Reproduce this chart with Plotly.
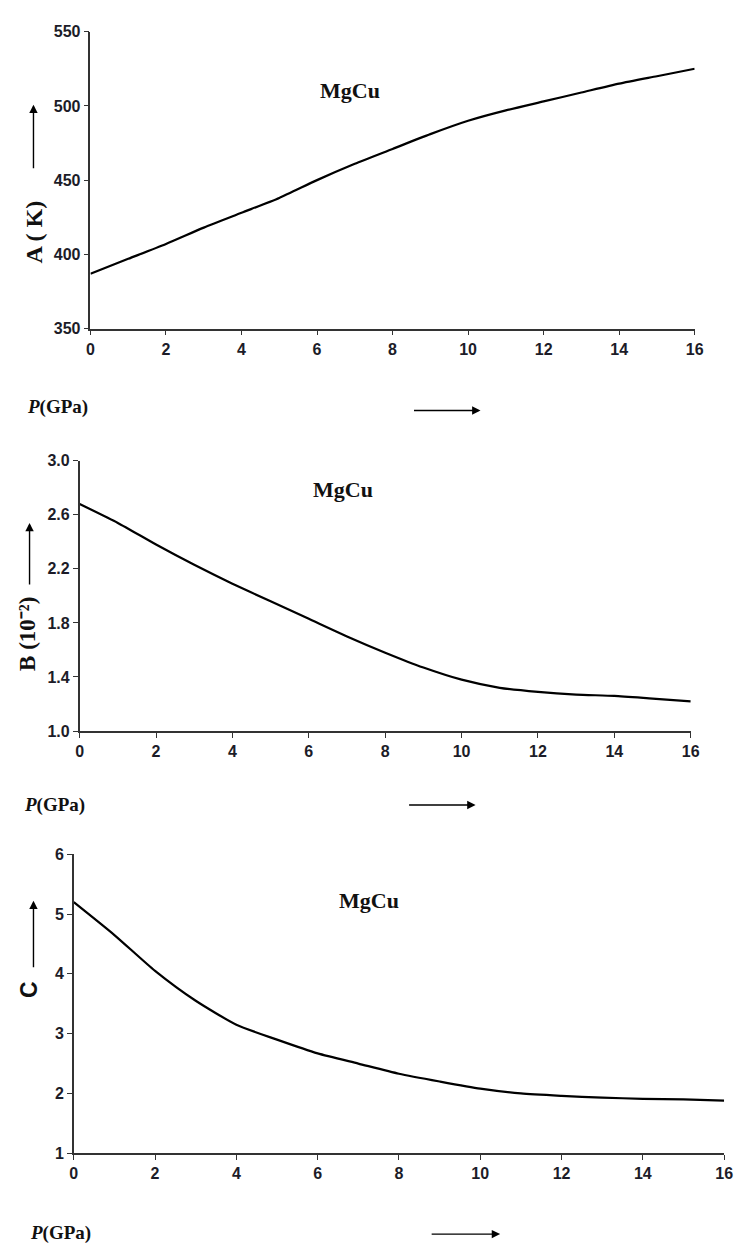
import plotly.graph_objects as go

W, H = 742, 1251

# ---- data ----
P = [0, 1, 2, 3, 4, 5, 6, 7, 8, 9, 10, 11, 12, 13, 14, 15, 16]
A_vals = [387, 397, 407, 418, 428, 438, 450, 461, 471, 481, 490, 497, 503, 509, 515, 520, 525]
B_vals = [2.68, 2.54, 2.38, 2.23, 2.09, 1.96, 1.83, 1.70, 1.58, 1.47, 1.38, 1.32, 1.29, 1.27, 1.26, 1.24, 1.22]
C_vals = [5.20, 4.65, 4.05, 3.55, 3.15, 2.90, 2.67, 2.50, 2.33, 2.20, 2.08, 2.00, 1.96, 1.93, 1.91, 1.90, 1.88]

def px(x):
    return x / W

def py(y):
    return 1 - y / H

fig = go.Figure()
for i, vals in enumerate([A_vals, B_vals, C_vals]):
    sfx = "" if i == 0 else str(i + 1)
    fig.add_trace(go.Scatter(x=P, y=vals, mode="lines",
                             line=dict(color="black", width=2.2, shape="spline", smoothing=0.6),
                             xaxis="x" + sfx, yaxis="y" + sfx, showlegend=False,
                             hoverinfo="skip"))

tickfont = dict(family="Liberation Sans, Arial", size=16, color="#1c1c28", weight="bold")
axcommon = dict(showline=True, linecolor="#333333", linewidth=1.5, ticks="outside",
                ticklen=5, tickwidth=1.3, tickcolor="#333333", showgrid=False,
                zeroline=False, tickfont=tickfont, fixedrange=True)

panels = [
    # x0, x1 (px), ytop, ybot (px), yrange, dtick, fmt
    (88, 703, 24, 325, [350, 550], 50, "d"),
    (77, 699, 459, 733, [1.0, 3.0], 0.4, ".1f"),
    (71, 733, 858, 1161, [1, 6], 1, "d"),
]
layout = dict(width=W, height=H, margin=dict(l=0, r=0, t=0, b=0),
              plot_bgcolor="white", paper_bgcolor="white")
for i, (x0, x1, yt, yb, yr, dt, fmt) in enumerate(panels):
    sfx = "" if i == 0 else str(i + 1)
    layout["xaxis" + sfx] = dict(domain=[px(x0), px(x1)], range=[0, 16], dtick=2, tick0=0,
                                 anchor="y" + sfx, **axcommon)
    layout["yaxis" + sfx] = dict(domain=[py(yb), py(yt)], range=yr, dtick=dt, tick0=yr[0],
                                 tickformat=fmt, anchor="x" + sfx, **axcommon)
fig.update_layout(**layout)

serif = "Liberation Serif, Times New Roman"

def label(text, x, y, size, family=serif, angle=0):
    return dict(text=text, x=px(x), y=py(y), xref="paper", yref="paper",
                xanchor="center", yanchor="middle", showarrow=False, textangle=angle,
                font=dict(family=family, size=size, color="#111"))

ann = []
# titles MgCu
for (x, y) in [(352, 84), (345, 488), (372, 905)]:
    ann.append(label("<b>MgCu</b>", x, y, 22))
# y-axis titles
ann.append(label("<b>A ( K)</b>", 30, 227, 24, angle=-90))
ann.append(label("<b>B (10⁻²)</b>", 24, 635, 23, angle=-90))
ann.append(label("<b>C</b>", 26, 995, 23, family="Liberation Sans, Arial", angle=-90))
# x-axis titles
for (x, y) in [(54, 405), (51, 808), (57, 1242)]:
    ann.append(label("<b><i>P</i>(GPa)</b>", x, y, 19))
# vertical arrows (head x,y ; tail below)
for (x, yh, yt) in [(30, 98, 163), (26, 522, 585), (30, 905, 973)]:
    ann.append(dict(text="", x=px(x), y=py(yh), xref="paper", yref="paper",
                    showarrow=True, ax=0, ay=yt - yh, arrowhead=2, arrowsize=1.2,
                    arrowwidth=1.4, arrowcolor="black"))
# horizontal arrows
for (xt, xh, y) in [(417, 485, 408), (412, 480, 808), (435, 505, 1243)]:
    ann.append(dict(text="", x=px(xh), y=py(y), xref="paper", yref="paper",
                    showarrow=True, ax=xt - xh, ay=0, arrowhead=2, arrowsize=1.2,
                    arrowwidth=1.4, arrowcolor="black"))
fig.update_layout(annotations=ann)

fig.write_html("out.html")
